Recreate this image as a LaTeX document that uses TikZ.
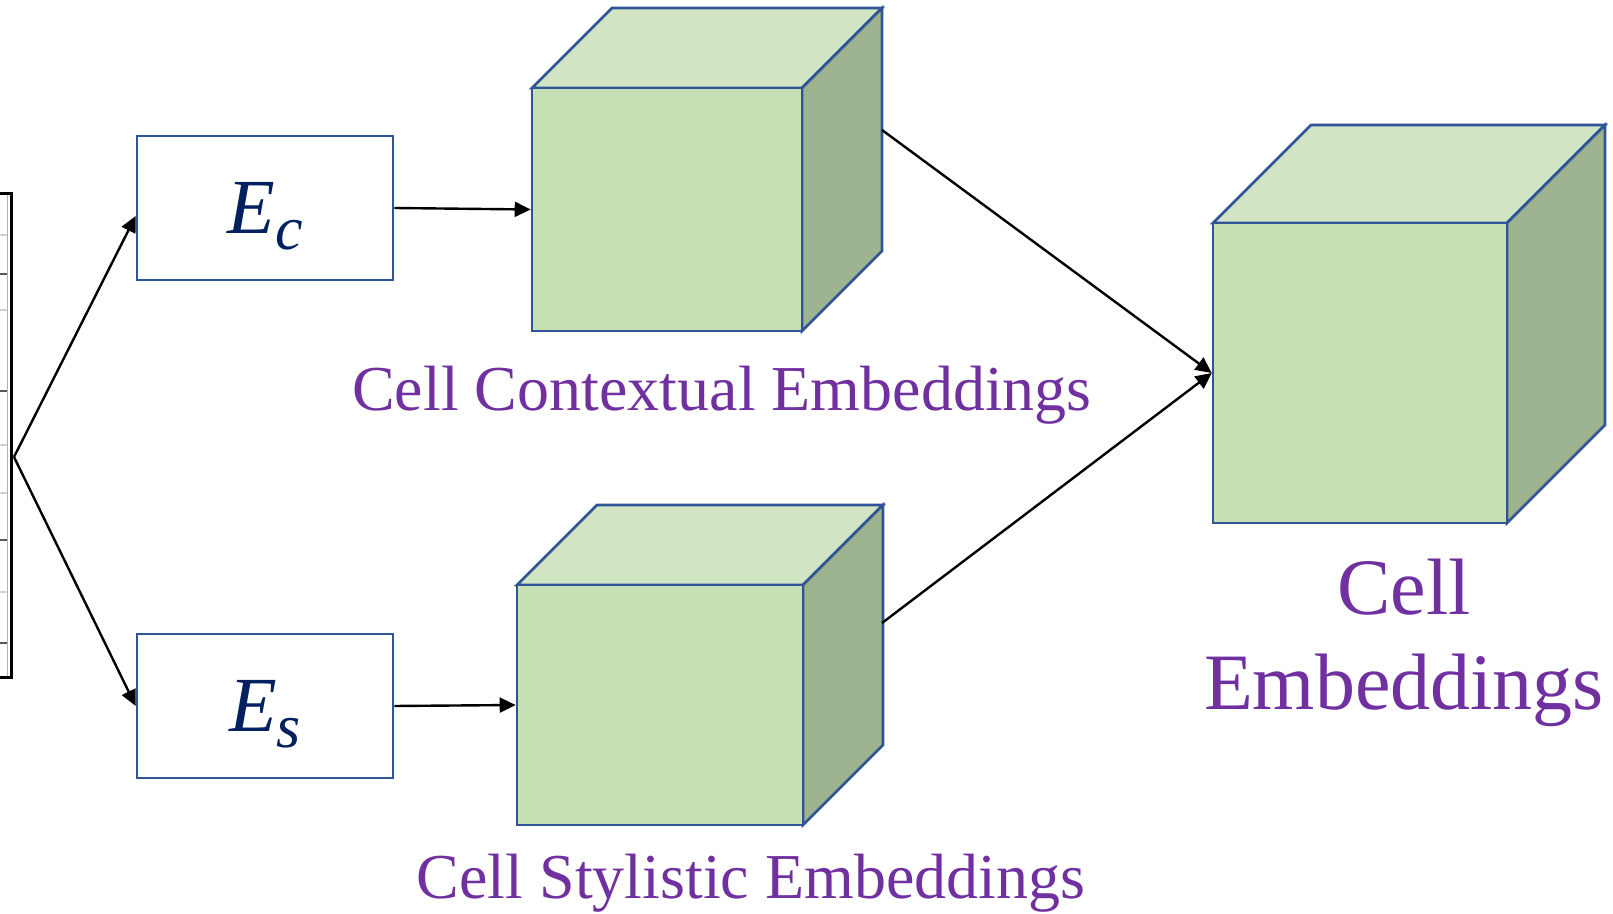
\documentclass[tikz,border=0pt]{standalone}
\usepackage{fontspec}
\setmainfont{Liberation Serif}
\usetikzlibrary{arrows.meta}
\definecolor{boxblue}{HTML}{2F5597}
\definecolor{navy}{HTML}{002060}
\definecolor{labpurple}{HTML}{7030A0}
\definecolor{cubefront}{HTML}{C5E0B4}
\definecolor{cubetop}{HTML}{D1E5C5}
\definecolor{cubeside}{HTML}{9EB390}
\newcommand\cubebody[5]{%
  \filldraw[face, fill=cubetop] (#1,#2) -- ({#1+#5},{#2-#5}) -- ({#3+#5},{#2-#5}) -- (#3,#2) -- cycle;
  \filldraw[face, fill=cubeside] (#3,#2) -- ({#3+#5},{#2-#5}) -- ({#3+#5},{#4-#5}) -- (#3,#4) -- cycle;
}
\newcommand\enclabel[1]{{\fontsize{39}{39}\selectfont\itshape E}\raisebox{-8pt}{\fontsize{31}{31}\selectfont\itshape #1}\hspace{12pt}}
\begin{document}
\begin{tikzpicture}[x=0.5pt,y=-0.5pt,
  conn/.style={draw=black, line width=1.2pt, -{Triangle[length=8pt,width=7.5pt]}},
  enc/.style={draw=boxblue, line width=1.3pt, fill=white, minimum width=128pt, minimum height=72pt, inner sep=0pt, text=navy, text depth=0pt},
  face/.style={draw=boxblue, line width=1.3pt, line join=miter},
  front/.style={face, fill=cubefront, inner sep=0pt},
  lab/.style={text=labpurple, inner sep=0pt, font=\fontsize{32}{38}\selectfont},
  biglab/.style={text=labpurple, inner sep=0pt, align=center, font=\fontsize{40}{47.5}\selectfont}]
\useasboundingbox (0,0) rectangle (1613,914);

% table fragment at the left edge
\foreach \yy in {235,310,445,493,592} \draw[gray!35, line width=0.6pt] (0,\yy) -- (7.5,\yy);
\foreach \yy in {274,391,540,643} \draw[gray!70!black, line width=0.7pt] (0,\yy) -- (7.5,\yy);
\draw[gray!60, line width=0.6pt] (7.5,194) -- (7.5,677);
\draw[black, line width=1.5pt] (0,194) -- (11.5,194) -- (11.5,677) -- (0,677);

% encoders
\node[enc] (ec) at (265,208) {\enclabel{c}};
\node[enc] (es) at (265,706) {\enclabel{s}};

% cubes
\cubebody{532}{88}{802}{331}{80}
\node[front, minimum width=135pt, minimum height=121.5pt] (ctx) at (667,209.5) {};
\cubebody{517}{585}{803}{825}{80}
\node[front, minimum width=143pt, minimum height=120pt] (sty) at (660,705) {};
\cubebody{1213}{223}{1507}{523}{98}
\node[front, minimum width=147pt, minimum height=150pt] (cemb) at (1360,373) {};

% labels
\node[lab, anchor=base] (ctxlab) at (722,411) {Cell Contextual Embeddings};
\node[lab, anchor=base] (stylab) at (751,898) {Cell Stylistic Embeddings};
\node[biglab, anchor=base] (cemblab) at (1404,710) {Cell\\Embeddings};

% connectors
\coordinate (fork) at (14,457);
\coordinate (ctxout) at (882,130);
\coordinate (styout) at (882,623);
\draw[conn] (fork) -- ([yshift=-4pt]ec.west);
\draw[conn] (fork) -- (es.west);
\draw[conn] (ec.east) -- (ctx.west);
\draw[conn] (es.east) -- (sty.west);
\draw[conn] (ctxout) -- (cemb.west);
\draw[conn] (styout) -- (cemb.west);
\end{tikzpicture}
\end{document}
